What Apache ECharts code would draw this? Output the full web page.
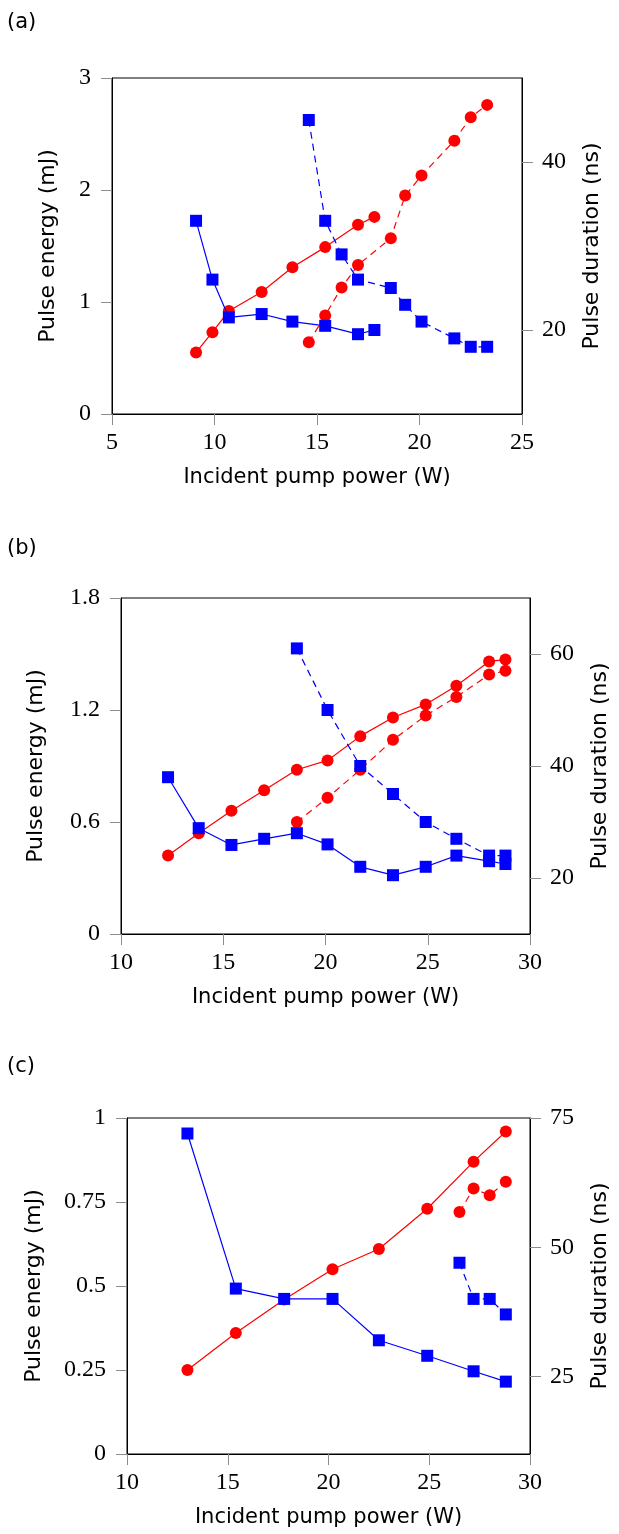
<!DOCTYPE html>
<html>
<head>
<meta charset="utf-8">
<script src="https://cdn.jsdelivr.net/npm/echarts@6/dist/echarts.min.js"></script>
<style>
  html, body { margin: 0; padding: 0; background: #fff; }
  #chart { width: 619px; height: 1534px; }
</style>
</head>
<body>
<div id="chart"></div>
<script>
// Panel (a): solid = first pump configuration, dashed = second
const powerA1 = [9.1, 9.9, 10.7, 12.3, 13.8, 15.4, 17.0, 17.8];
const energyA1 = [0.55, 0.73, 0.92, 1.09, 1.31, 1.49, 1.69, 1.76];
const durationA1 = [33.0, 26.0, 21.5, 21.9, 21.0, 20.5, 19.5, 20.0];
const powerA2 = [14.6, 15.4, 16.2, 17.0, 18.6, 19.3, 20.1, 21.7, 22.5, 23.3];
const energyA2 = [0.64, 0.88, 1.13, 1.33, 1.57, 1.95, 2.13, 2.44, 2.65, 2.76];
const durationA2 = [45.0, 33.0, 29.0, 26.0, 25.0, 23.0, 21.0, 19.0, 18.0, 18.0];

// Panel (b)
const powerB1 = [12.3, 13.8, 15.4, 17.0, 18.6, 20.1, 21.7, 23.3, 24.9, 26.4, 28.0, 28.8];
const energyB1 = [0.42, 0.54, 0.66, 0.77, 0.88, 0.93, 1.06, 1.16, 1.23, 1.33, 1.46, 1.47];
const durationB1 = [38.0, 28.9, 25.9, 27.0, 28.0, 26.0, 22.0, 20.5, 22.0, 24.0, 23.0, 22.5];
const powerB2 = [18.6, 20.1, 21.7, 23.3, 24.9, 26.4, 28.0, 28.8];
const energyB2 = [0.60, 0.73, 0.88, 1.04, 1.17, 1.27, 1.39, 1.41];
const durationB2 = [61.0, 50.0, 40.0, 35.0, 30.0, 27.0, 24.0, 24.0];

// Panel (c)
const powerC1 = [13.0, 15.4, 17.8, 20.2, 22.5, 24.9, 27.2, 28.8];
const energyC1 = [0.25, 0.36, 0.46, 0.55, 0.61, 0.73, 0.87, 0.96];
const durationC1 = [72.0, 42.0, 40.0, 40.0, 32.0, 29.0, 26.0, 24.0];
const powerC2 = [26.5, 27.2, 28.0, 28.8];
const energyC2 = [0.72, 0.79, 0.77, 0.81];
const durationC2 = [47.0, 40.0, 40.0, 37.0];

// Axis ranges and tick values per panel
const panelNames = ['(a)', '(b)', '(c)'];
const xRanges = [[5, 25], [10, 30], [10, 30]];
const energyRanges = [[0, 3, 1], [0, 1.8, 0.6], [0, 1, 0.25]];
const durationRanges = [[10, 50], [10, 70], [10, 75]];
const durationTicks = [[20, 40], [20, 40, 60], [25, 50, 75]];

const RED = '#ff0000';
const BLUE = '#0000ff';
const SERIF = '"Liberation Serif", "Times New Roman", serif';
const SANS = '"DejaVu Sans", sans-serif';

const grids = [
  { left: 112, top: 78, width: 410, height: 336 },
  { left: 121, top: 598, width: 410, height: 336 },
  { left: 127, top: 1118, width: 410, height: 336 }
];
const panelLabelTop = [12, 538, 1056];
const leftNameGap = [53, 74, 82];

const pair = (xs, ys) => xs.map((x, i) => [x, ys[i]]);

const tickStyle = { show: true, inside: false, length: 11, lineStyle: { color: '#8c8c8c', width: 1 } };
const axisLineStyle = { show: true, lineStyle: { color: '#000', width: 1 } };
const tickFont = { fontFamily: SERIF, fontSize: 24, color: '#000' };

const xAxes = xRanges.map((r, i) => ({
  type: 'value', gridIndex: i, min: r[0], max: r[1], interval: 5,
  name: 'Incident pump power (W)', nameLocation: 'middle', nameGap: 53,
  nameTextStyle: { fontFamily: SANS, fontSize: 21, color: '#000' },
  axisLine: axisLineStyle, axisTick: tickStyle,
  axisLabel: Object.assign({ margin: 17 }, tickFont),
  splitLine: { show: false }
}));

const yAxes = [];
energyRanges.forEach((r, i) => {
  yAxes.push({
    type: 'value', gridIndex: i, position: 'left', min: r[0], max: r[1], interval: r[2],
    name: 'Pulse energy (mJ)', nameLocation: 'middle', nameGap: leftNameGap[i],
    nameTextStyle: { fontFamily: SANS, fontSize: 22, color: '#000' },
    axisLine: axisLineStyle, axisTick: tickStyle,
    axisLabel: Object.assign({ margin: 21 }, tickFont),
    splitLine: { show: false }
  });
  yAxes.push({
    type: 'value', gridIndex: i, position: 'right', min: durationRanges[i][0], max: durationRanges[i][1],
    name: 'Pulse duration (ns)', nameLocation: 'middle', nameGap: 59,
    nameTextStyle: { fontFamily: SANS, fontSize: 22, color: '#000' },
    axisLine: axisLineStyle,
    axisTick: Object.assign({}, tickStyle, { customValues: durationTicks[i] }),
    axisLabel: Object.assign({ margin: 20, customValues: durationTicks[i] }, tickFont),
    splitLine: { show: false }
  });
});

function line(name, xi, yi, data, color, symbol, dashed) {
  return {
    name, type: 'line', xAxisIndex: xi, yAxisIndex: yi, data,
    symbol, symbolSize: 12,
    itemStyle: { color },
    lineStyle: { color, width: 1.2, type: dashed ? [7, 5] : 'solid' },
    animation: false, z: color === BLUE ? 3 : 2
  };
}

const series = [
  line('energyA1', 0, 0, pair(powerA1, energyA1), RED, 'circle', false),
  line('energyA2', 0, 0, pair(powerA2, energyA2), RED, 'circle', true),
  line('durationA1', 0, 1, pair(powerA1, durationA1), BLUE, 'rect', false),
  line('durationA2', 0, 1, pair(powerA2, durationA2), BLUE, 'rect', true),
  line('energyB1', 1, 2, pair(powerB1, energyB1), RED, 'circle', false),
  line('energyB2', 1, 2, pair(powerB2, energyB2), RED, 'circle', true),
  line('durationB1', 1, 3, pair(powerB1, durationB1), BLUE, 'rect', false),
  line('durationB2', 1, 3, pair(powerB2, durationB2), BLUE, 'rect', true),
  line('energyC1', 2, 4, pair(powerC1, energyC1), RED, 'circle', false),
  line('energyC2', 2, 4, pair(powerC2, energyC2), RED, 'circle', true),
  line('durationC1', 2, 5, pair(powerC1, durationC1), BLUE, 'rect', false),
  line('durationC2', 2, 5, pair(powerC2, durationC2), BLUE, 'rect', true)
];

const chart = echarts.init(document.getElementById('chart'), null, { renderer: 'canvas' });
chart.setOption({
  backgroundColor: '#fff',
  animation: false,
  grid: grids.map(g => Object.assign({ show: true, borderColor: '#000', borderWidth: 1, backgroundColor: 'transparent' }, g)),
  xAxis: xAxes,
  yAxis: yAxes,
  series,
  graphic: panelNames.map((t, i) => ({
    type: 'text', left: 7, top: panelLabelTop[i],
    style: { text: t, fontFamily: SANS, fontSize: 21, fill: '#000' }
  }))
});
</script>
</body>
</html>
